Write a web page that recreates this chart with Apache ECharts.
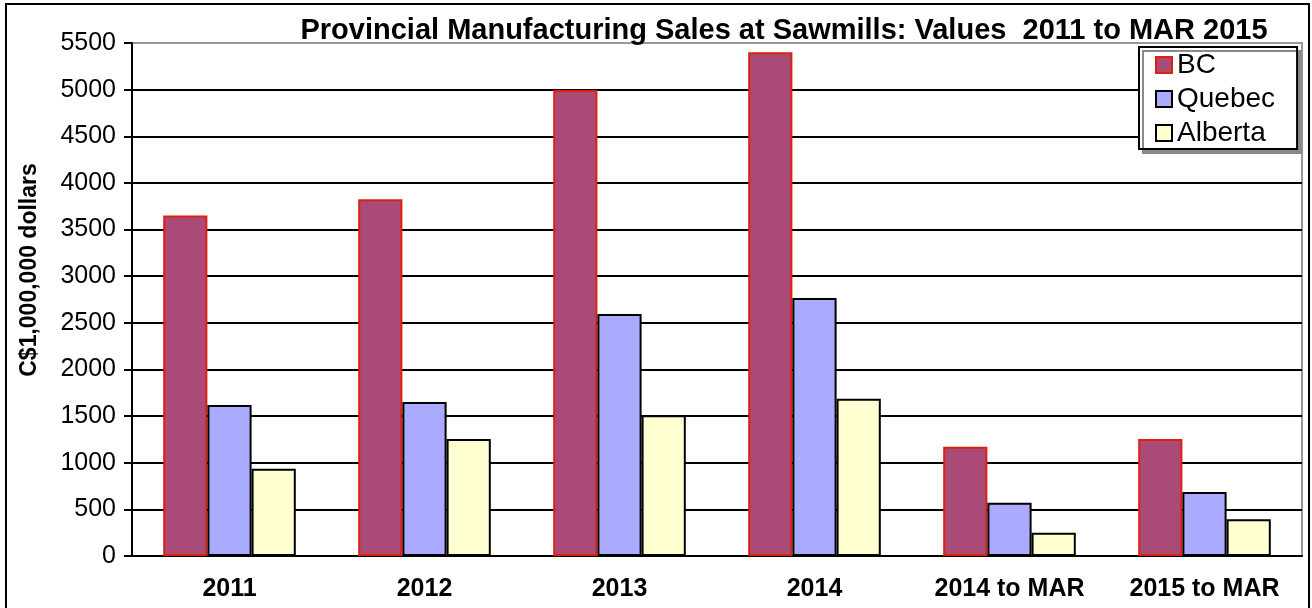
<!DOCTYPE html>
<html>
<head>
<meta charset="utf-8">
<script src="https://cdn.jsdelivr.net/npm/echarts@6/dist/echarts.min.js"></script>
<style>
  html, body { margin: 0; padding: 0; background: #fff; }
  #chart { width: 1312px; height: 608px; }
</style>
</head>
<body>
<div id="chart"></div>
<script>
// categories and values (C$ millions)
const categories = ['2011', '2012', '2013', '2014', '2014 to MAR', '2015 to MAR'];
const bcValues = [3650, 3825, 4995, 5400, 1170, 1255];
const quebecValues = [1620, 1650, 2595, 2765, 570, 685];
const albertaValues = [935, 1255, 1510, 1685, 250, 395];

const chart = echarts.init(document.getElementById('chart'));
const font = 'Liberation Sans, Arial, sans-serif';

const option = {
  backgroundColor: '#fff',
  animation: false,
  title: {
    text: 'Provincial Manufacturing Sales at Sawmills: Values  2011 to MAR 2015',
    left: 779,
    textAlign: 'center',
    top: 11,
    textStyle: { fontFamily: font, fontSize: 29, fontWeight: 'bold', color: '#000' }
  },
  legend: {
    orient: 'vertical',
    left: 1139,
    top: 47,
    padding: [4, 22, 2, 16],
    itemGap: 6,
    itemWidth: 16,
    itemHeight: 16,
    backgroundColor: '#fff',
    borderColor: '#000',
    borderWidth: 2,
    borderRadius: 0,
    shadowColor: '#8a8a8a',
    shadowBlur: 0,
    shadowOffsetX: 4,
    shadowOffsetY: 4,
    selectedMode: false,
    textStyle: { fontFamily: font, fontSize: 28, color: '#000' },
    data: [
      { name: 'BC', icon: 'rect', itemStyle: { borderColor: '#e0200f', borderWidth: 2 } },
      { name: 'Quebec', icon: 'rect', itemStyle: { borderColor: '#000', borderWidth: 2 } },
      { name: 'Alberta', icon: 'rect', itemStyle: { borderColor: '#000', borderWidth: 2 } }
    ]
  },
  grid: { left: 132, right: 10, top: 43, bottom: 52, show: true, borderColor: '#999', borderWidth: 2 },
  xAxis: {
    type: 'category',
    data: categories,
    axisLine: { lineStyle: { color: '#000', width: 2 } },
    axisTick: { show: false },
    axisLabel: { interval: 0, fontFamily: font, fontSize: 25, fontWeight: 'bold', color: '#000', margin: 21 }
  },
  yAxis: {
    type: 'value',
    min: 0,
    max: 5500,
    interval: 500,
    axisLine: { show: true, lineStyle: { color: '#000', width: 2 } },
    axisTick: { show: true, length: 8, lineStyle: { color: '#000', width: 2 } },
    axisLabel: { fontFamily: font, fontSize: 25, color: '#000', margin: 16, formatter: v => String(v) },
    splitLine: { showMaxLine: false, lineStyle: { color: '#000', width: 2 } }
  },
  graphic: [
    {
      type: 'rect',
      shape: { x: 6, y: 4, width: 1303, height: 620 },
      style: { fill: null, stroke: '#000', lineWidth: 2 },
      silent: true
    },
    {
      type: 'text',
      x: 30,
      y: 270,
      rotation: Math.PI / 2,
      style: {
        text: 'C$1,000,000 dollars',
        fontFamily: font,
        fontSize: 23,
        fontWeight: 'bold',
        fill: '#000',
        align: 'center',
        verticalAlign: 'middle'
      },
      silent: true
    }
  ],
  series: [
    {
      name: 'BC', type: 'bar', data: bcValues,
      barGap: '0%', barCategoryGap: '32%',
      itemStyle: { color: '#aa4a76', borderColor: '#e0200f', borderWidth: 2 }
    },
    {
      name: 'Quebec', type: 'bar', data: quebecValues,
      itemStyle: { color: '#aaaaff', borderColor: '#000', borderWidth: 2 }
    },
    {
      name: 'Alberta', type: 'bar', data: albertaValues,
      itemStyle: { color: '#ffffd2', borderColor: '#000', borderWidth: 2 }
    }
  ]
};

chart.setOption(option);
window.addEventListener('resize', () => chart.resize());
</script>
</body>
</html>
